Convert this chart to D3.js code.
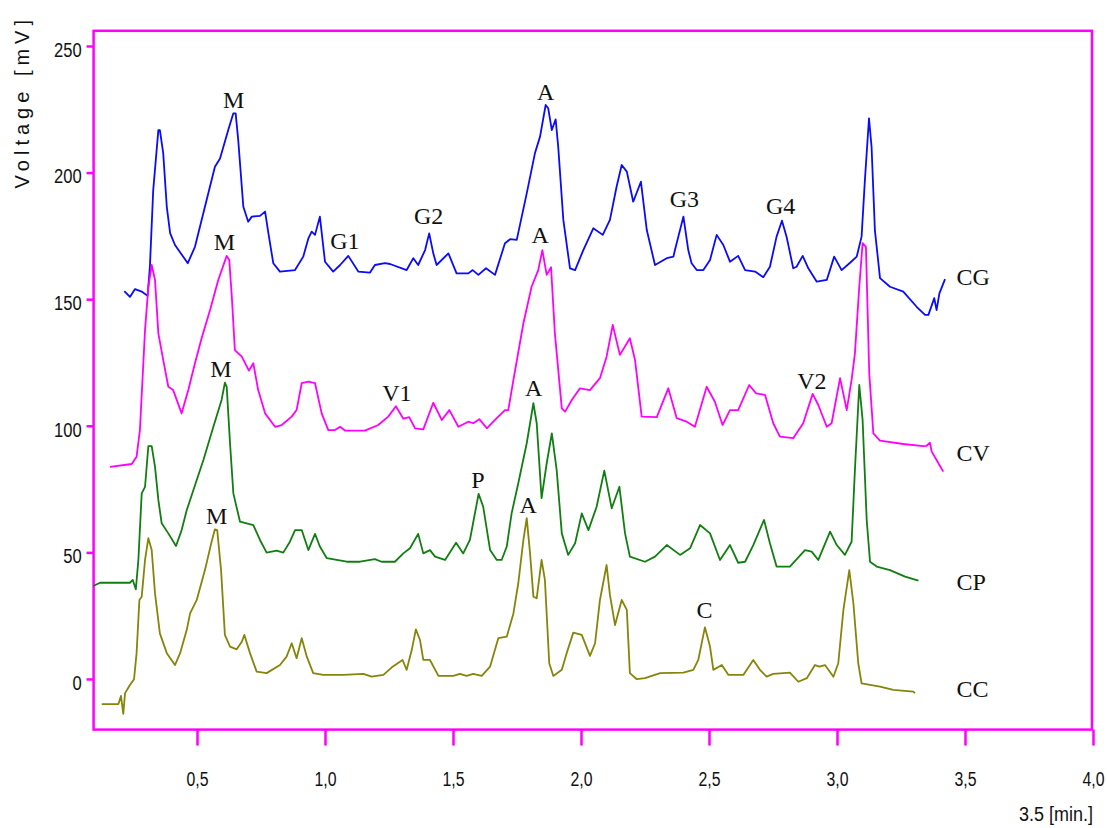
<!DOCTYPE html>
<html>
<head>
<meta charset="utf-8">
<script src="https://cdn.jsdelivr.net/npm/d3@7"></script>
<style>
  html, body { margin: 0; padding: 0; background: #fff; }
  svg { display: block; }
  .tick-label { font-family: "Liberation Sans", Arial, sans-serif; font-size: 20px; fill: #111; }
  .peak { font-family: "Liberation Serif", "Times New Roman", serif; font-size: 24px; fill: #111; }
  .series-name { font-family: "Liberation Serif", "Times New Roman", serif; font-size: 24px; fill: #111; }
</style>
</head>
<body>
<svg id="chart" width="1107" height="828"></svg>
<script>
// Retention time (min) and detector voltage (mV) for each chromatogram
const CG = [
  [0.216,153.2],[0.238,150.9],[0.258,154.0],[0.284,153.0],[0.307,151.3],[0.316,162.8],[0.329,193.1],
  [0.349,216.8],[0.355,216.8],[0.368,207.7],[0.382,186.5],[0.395,176.1],[0.414,171.4],[0.464,164.2],
  [0.492,170.7],[0.531,186.5],[0.570,202.3],[0.590,205.6],[0.622,216.8],[0.642,223.4],[0.651,223.4],
  [0.661,212.9],[0.681,186.5],[0.700,180.6],[0.714,182.6],[0.746,182.9],[0.766,184.6],[0.779,176.0],
  [0.798,164.2],[0.824,160.9],[0.883,161.5],[0.915,166.8],[0.935,174.0],[0.948,176.7],[0.961,175.4],
  [0.980,182.6],[1.000,164.8],[1.032,160.9],[1.059,163.5],[1.091,167.1],[1.130,160.9],[1.176,160.5],
  [1.195,163.5],[1.234,164.2],[1.254,163.9],[1.319,161.5],[1.345,166.2],[1.364,163.5],[1.391,169.4],
  [1.407,176.0],[1.423,168.1],[1.436,163.5],[1.482,168.1],[1.514,160.2],[1.560,160.2],[1.577,161.5],
  [1.599,159.6],[1.629,162.2],[1.664,159.6],[1.703,172.1],[1.723,173.7],[1.749,173.4],[1.788,191.8],
  [1.820,207.6],[1.840,214.2],[1.862,226.7],[1.872,225.4],[1.886,216.8],[1.901,221.0],[1.911,210.2],
  [1.931,181.3],[1.957,162.2],[1.977,161.5],[2.009,169.4],[2.048,178.0],[2.085,175.4],[2.113,181.3],
  [2.139,194.4],[2.159,203.0],[2.179,200.4],[2.204,188.5],[2.234,196.4],[2.257,177.3],[2.289,163.5],
  [2.335,166.2],[2.361,166.8],[2.367,169.4],[2.400,182.6],[2.419,169.4],[2.432,164.2],[2.452,161.5],
  [2.478,161.5],[2.504,165.5],[2.530,175.4],[2.556,171.4],[2.582,164.8],[2.614,167.1],[2.641,161.5],
  [2.680,160.9],[2.712,158.7],[2.738,162.8],[2.764,174.7],[2.785,181.0],[2.803,174.7],[2.829,162.2],
  [2.842,162.8],[2.866,167.1],[2.888,162.2],[2.921,156.9],[2.960,157.6],[2.989,166.8],[3.018,161.5],
  [3.051,164.4],[3.077,166.8],[3.096,174.7],[3.109,197.1],[3.125,221.4],[3.135,210.2],[3.148,177.3],
  [3.168,158.3],[3.207,154.9],[3.259,153.0],[3.311,147.0],[3.344,143.8],[3.357,143.8],[3.380,150.4],
  [3.389,145.7],[3.400,152.3],[3.422,157.9]
];

const CV = [
  [0.160,83.8],[0.245,84.9],[0.264,87.8],[0.277,98.3],[0.297,137.8],[0.310,154.9],[0.323,163.5],
  [0.336,157.6],[0.349,136.5],[0.368,126.0],[0.388,115.4],[0.407,114.1],[0.440,104.9],[0.466,114.1],
  [0.492,124.7],[0.518,134.6],[0.551,145.7],[0.583,157.6],[0.616,167.1],[0.626,165.5],[0.636,151.0],
  [0.648,129.9],[0.675,127.3],[0.703,121.8],[0.720,124.7],[0.739,114.1],[0.766,104.9],[0.805,99.6],
  [0.831,100.3],[0.870,103.6],[0.889,106.2],[0.909,116.8],[0.935,117.4],[0.961,116.8],[0.987,104.9],
  [1.013,98.3],[1.039,98.3],[1.059,99.6],[1.078,98.1],[1.156,98.1],[1.208,100.3],[1.247,103.6],
  [1.277,107.7],[1.306,102.8],[1.329,103.4],[1.352,99.0],[1.384,98.6],[1.423,109.1],[1.456,102.3],
  [1.486,106.2],[1.521,99.6],[1.560,101.6],[1.579,101.0],[1.603,102.6],[1.632,99.0],[1.664,102.3],
  [1.703,106.2],[1.716,106.2],[1.736,118.1],[1.775,140.5],[1.807,154.9],[1.833,161.5],[1.849,169.4],
  [1.866,159.6],[1.883,162.6],[1.898,136.5],[1.925,106.9],[1.938,105.6],[1.964,110.2],[1.996,114.8],
  [2.035,114.1],[2.074,118.8],[2.100,127.3],[2.124,139.8],[2.152,128.0],[2.191,134.6],[2.211,126.0],
  [2.237,103.6],[2.296,103.4],[2.341,114.8],[2.374,103.0],[2.413,101.6],[2.445,99.6],[2.491,115.4],
  [2.523,109.5],[2.553,100.3],[2.582,106.2],[2.614,106.2],[2.657,116.1],[2.684,112.8],[2.719,112.2],
  [2.751,101.0],[2.777,95.7],[2.829,95.1],[2.868,101.0],[2.905,112.6],[2.927,108.2],[2.960,99.6],
  [2.979,101.0],[3.012,118.8],[3.038,106.2],[3.057,118.1],[3.070,128.6],[3.087,154.9],[3.100,172.1],
  [3.113,170.7],[3.126,120.7],[3.142,97.0],[3.168,94.1],[3.259,92.8],[3.337,92.0],[3.350,92.1],
  [3.363,93.3],[3.370,89.8],[3.389,86.5],[3.415,81.9]
];

const CP = [
  [0.095,36.7],[0.121,38.0],[0.238,38.0],[0.249,39.1],[0.261,35.4],[0.271,47.0],[0.284,73.3],
  [0.297,75.9],[0.310,92.0],[0.323,92.0],[0.336,83.8],[0.349,70.7],[0.362,61.5],[0.388,57.5],
  [0.418,52.5],[0.440,58.8],[0.460,66.7],[0.486,74.6],[0.525,86.5],[0.564,99.6],[0.596,110.2],
  [0.609,117.0],[0.616,115.4],[0.629,93.1],[0.642,73.3],[0.668,62.1],[0.720,60.8],[0.746,54.9],
  [0.772,49.9],[0.811,50.7],[0.837,49.9],[0.863,54.2],[0.883,58.8],[0.909,58.8],[0.935,50.9],
  [0.961,57.3],[0.980,52.3],[1.007,47.7],[1.046,47.0],[1.085,46.3],[1.137,46.3],[1.195,47.3],
  [1.221,46.3],[1.273,46.3],[1.306,49.6],[1.332,51.6],[1.364,57.3],[1.384,49.6],[1.410,50.9],
  [1.430,48.3],[1.469,47.0],[1.512,53.8],[1.540,49.6],[1.566,54.9],[1.600,73.1],[1.618,68.0],
  [1.645,50.9],[1.671,47.0],[1.690,47.0],[1.710,52.3],[1.729,65.4],[1.755,77.3],[1.788,93.1],
  [1.814,108.9],[1.827,101.0],[1.846,71.4],[1.866,85.2],[1.886,97.0],[1.905,82.5],[1.925,57.5],
  [1.950,49.0],[1.977,53.6],[2.003,65.4],[2.029,58.8],[2.061,68.0],[2.091,82.3],[2.120,67.4],
  [2.150,75.9],[2.172,57.5],[2.191,48.3],[2.250,46.3],[2.289,48.3],[2.335,52.9],[2.387,49.0],
  [2.426,51.6],[2.465,60.8],[2.504,57.5],[2.543,47.0],[2.582,52.9],[2.614,45.9],[2.641,46.3],
  [2.673,52.9],[2.715,62.8],[2.738,53.6],[2.764,44.4],[2.816,44.4],[2.875,50.9],[2.901,50.3],
  [2.927,47.0],[2.973,58.2],[2.999,52.9],[3.031,49.0],[3.057,54.2],[3.070,82.5],[3.087,116.1],
  [3.100,102.3],[3.116,62.8],[3.129,46.3],[3.155,44.4],[3.207,43.0],[3.266,40.4],[3.318,38.8]
];

const CC = [
  [0.128,-9.9],[0.193,-9.9],[0.203,-6.7],[0.212,-13.8],[0.219,-5.6],[0.238,-2.4],[0.254,-0.1],
  [0.264,10.2],[0.275,31.2],[0.284,32.5],[0.297,47.0],[0.310,55.6],[0.323,50.9],[0.336,33.8],
  [0.355,18.0],[0.382,10.2],[0.414,5.5],[0.434,10.2],[0.460,19.4],[0.473,25.9],[0.499,31.2],
  [0.531,43.0],[0.557,54.2],[0.570,59.1],[0.579,58.8],[0.594,43.0],[0.609,17.4],[0.629,12.8],
  [0.655,11.7],[0.675,14.7],[0.685,17.4],[0.707,10.2],[0.733,2.9],[0.772,2.3],[0.824,5.5],
  [0.850,8.8],[0.870,14.1],[0.889,8.2],[0.909,16.1],[0.929,8.8],[0.954,2.3],[0.993,1.6],
  [1.071,1.6],[1.150,2.0],[1.182,0.9],[1.228,1.6],[1.261,4.6],[1.303,7.5],[1.319,3.6],
  [1.339,11.5],[1.355,19.6],[1.371,15.4],[1.384,7.5],[1.410,7.5],[1.443,1.2],[1.501,1.2],
  [1.527,2.0],[1.553,1.2],[1.579,2.0],[1.612,1.2],[1.645,4.9],[1.677,16.1],[1.710,16.7],
  [1.736,25.9],[1.755,37.8],[1.775,54.9],[1.788,63.5],[1.801,49.6],[1.814,32.5],[1.827,31.9],
  [1.846,47.0],[1.859,39.1],[1.876,6.2],[1.892,1.2],[1.925,3.6],[1.944,10.2],[1.970,18.3],
  [2.003,17.4],[2.035,9.1],[2.055,14.1],[2.074,31.2],[2.100,45.0],[2.113,33.2],[2.133,21.3],
  [2.159,31.2],[2.179,27.3],[2.191,2.3],[2.218,-0.1],[2.250,0.3],[2.309,2.3],[2.400,2.5],
  [2.439,3.6],[2.458,7.5],[2.484,20.4],[2.504,12.8],[2.517,3.6],[2.550,5.5],[2.576,1.6],
  [2.634,1.6],[2.673,7.5],[2.699,3.6],[2.725,0.9],[2.751,2.0],[2.816,2.5],[2.849,-1.1],
  [2.882,0.3],[2.914,5.5],[2.931,4.9],[2.953,5.5],[2.986,0.9],[3.005,6.2],[3.025,27.3],
  [3.048,43.0],[3.064,29.9],[3.083,6.2],[3.096,-1.7],[3.168,-3.0],[3.220,-4.3],[3.298,-5.0],
  [3.305,-5.6]
];

const seriesNames = ["CG", "CV", "CP", "CC"];
const seriesData = [CG, CV, CP, CC];
const seriesColors = ["#0a0aff", "#ff00ff", "#117e11", "#85850a"];
// anchor (time, voltage) for each trace name at the right-hand side
const seriesLabelAt = [[3.467, 155.6], [3.467, 86.2], [3.467, 35.1], [3.467, -7.1]];

// Peak annotations: text, time (min), voltage (mV) of the label baseline centre
const peakText = ["M", "M", "M", "M", "G1", "G2", "A", "A", "V1", "A", "P", "A", "G3", "G4", "V2", "C"];
const peakTime = [0.643, 0.607, 0.593, 0.577, 1.078, 1.405, 1.862, 1.841, 1.281, 1.815, 1.597, 1.794, 2.404, 2.780, 2.902, 2.482];
const peakVolt = [225.5, 169.4, 119.4, 61.2, 169.8, 179.7, 228.7, 172.3, 109.9, 111.8, 75.3, 65.4, 186.5, 183.6, 114.4, 24.1];

const xTicks = [0.5, 1.0, 1.5, 2.0, 2.5, 3.0, 3.5, 4.0];
const yTicks = [0, 50, 100, 150, 200, 250];
const xTickLabels = ["0,5", "1,0", "1,5", "2,0", "2,5", "3,0", "3,5", "4,0"];

const svg = d3.select("#chart");
const frameColor = "#ff00ff";

// narrow numerals: squeeze glyphs to a fixed advance per character
const narrowWidth = s => s.split("").reduce((w, c) => w + (/[0-9]/.test(c) ? 9.2 : (c === " " ? 5 : 3.6)), 0);

const x = d3.scaleLinear().domain([0.1, 4.0]).range([94.6, 1093]);
const y = d3.scaleLinear().domain([-20, 256]).range([729.6, 30.8]);

// Plot frame
svg.append("rect")
  .attr("x", x(0.1) - 1).attr("y", y(256))
  .attr("width", x(4.0) - x(0.1)).attr("height", y(-20) - y(256))
  .attr("fill", "none").attr("stroke", frameColor).attr("stroke-width", 2.5);

// Y axis: short outward ticks, condensed numerals
const yAxis = d3.axisLeft(y).tickValues(yTicks).tickSize(7).tickPadding(5).tickFormat(d3.format("d"));
const gy = svg.append("g").attr("transform", `translate(${x(0.1) - 1},0)`).call(yAxis);
gy.select(".domain").remove();
gy.selectAll(".tick line").attr("stroke", frameColor).attr("stroke-width", 2.5);
gy.selectAll(".tick text")
  .attr("class", "tick-label").attr("dy", "0.52em").attr("fill", "#111")
  .attr("textLength", d => narrowWidth(String(d))).attr("lengthAdjust", "spacingAndGlyphs");

// X axis: ticks hang below the frame
const xAxis = d3.axisBottom(x).tickValues(xTicks).tickSize(16).tickPadding(26)
  .tickFormat((d, i) => xTickLabels[i]);
const gx = svg.append("g").attr("transform", `translate(0,${y(-20)})`).call(xAxis);
gx.select(".domain").remove();
gx.selectAll(".tick line").attr("stroke", frameColor).attr("stroke-width", 2.5);
gx.selectAll(".tick text")
  .attr("class", "tick-label").attr("fill", "#111")
  .attr("textLength", (d, i) => narrowWidth(xTickLabels[i])).attr("lengthAdjust", "spacingAndGlyphs");

// Axis titles
svg.append("text")
  .attr("transform", `translate(29,${y(228)}) rotate(-90)`)
  .attr("text-anchor", "middle")
  .style("font-family", "'Liberation Sans', Arial, sans-serif")
  .style("font-size", "20px")
  .style("letter-spacing", "5px")
  .attr("fill", "#111")
  .text("Voltage [mV]");

svg.append("text")
  .attr("x", x(4.0)).attr("y", 821)
  .attr("text-anchor", "end")
  .attr("class", "tick-label")
  .attr("textLength", 74).attr("lengthAdjust", "spacingAndGlyphs")
  .text("3.5 [min.]");

// Chromatogram traces
const line = d3.line().x(d => x(d[0])).y(d => y(d[1])).curve(d3.curveLinear);
svg.append("g").selectAll("path")
  .data(seriesData)
  .join("path")
  .attr("d", line)
  .attr("fill", "none")
  .attr("stroke", (d, i) => seriesColors[i])
  .attr("stroke-width", 1.8)
  .attr("stroke-linejoin", "round");

// Trace names
svg.append("g").selectAll("text")
  .data(seriesNames)
  .join("text")
  .attr("class", "series-name")
  .attr("x", (d, i) => x(seriesLabelAt[i][0]))
  .attr("y", (d, i) => y(seriesLabelAt[i][1]))
  .text(d => d);

// Peak identifications
svg.append("g").selectAll("text")
  .data(peakText)
  .join("text")
  .attr("class", "peak")
  .attr("text-anchor", "middle")
  .attr("x", (d, i) => x(peakTime[i]))
  .attr("y", (d, i) => y(peakVolt[i]))
  .text(d => d);
</script>
</body>
</html>
